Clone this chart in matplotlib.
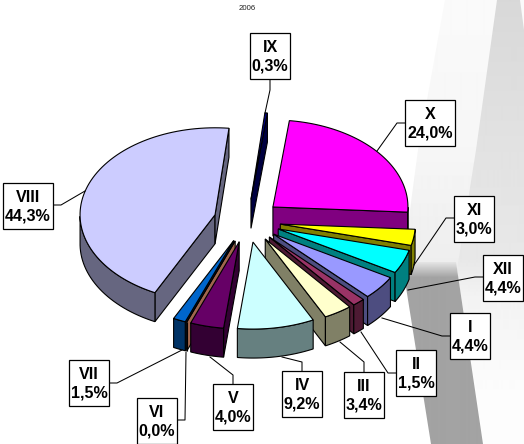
import numpy as np
import matplotlib
matplotlib.use('Agg')
import matplotlib.pyplot as plt
from matplotlib.patches import Polygon

# clockwise from X, the way the pie runs
months = ['X', 'XI', 'XII', 'I', 'II', 'III', 'IV', 'V', 'VI', 'VII', 'VIII', 'IX']
shares = [24.0, 3.0, 4.4, 4.4, 1.5, 3.4, 9.2, 4.0, 0.0, 1.5, 44.3, 0.3]
top_colors = ['#FF00FF', '#FFFF00', '#00FFFF', '#9999FF', '#993366', '#FFFFCC',
              '#CCFFFF', '#660066', '#A0664D', '#0066CC', '#CCCCFF', '#000080']
side_colors = ['#800080', '#808000', '#008080', '#4D4D80', '#4D1A33', '#808066',
               '#668080', '#330033', '#A0664D', '#003366', '#666680', '#000040']

# pixel layout of the picture
cx, cy = 247.2, 220.8
rx, ry = 135, 87
depth = 29
explode = 0.248
start = 83.0

boxes = {'IX': (250, 33), 'X': (405, 100), 'XI': (454, 196), 'XII': (483, 255),
         'I': (450, 313), 'II': (396, 350), 'III': (344, 372), 'IV': (282, 371),
         'V': (213, 384), 'VI': (137, 398), 'VII': (69, 360), 'VIII': (3, 183)}
box_w = {'X': 50, 'VIII': 50}
leaders = {'IX': [(270, 79), (270, 90), (265, 113)],
           'X': [(405, 123), (397, 123), (377, 151)],
           'XI': [(454, 218), (446, 218), (414, 265)],
           'XII': [(483, 277), (475, 277), (408, 290)],
           'I': [(450, 336), (442, 336), (382, 318)],
           'II': [(396, 373), (388, 373), (361, 332)],
           'III': [(364, 372), (364, 362), (340, 342)],
           'IV': [(302, 371), (302, 362), (282, 357)],
           'V': [(233, 384), (233, 375), (210, 357)],
           'VI': [(177, 420), (185, 420), (186, 352)],
           'VII': [(109, 383), (117, 383), (182, 350)],
           'VIII': [(53, 205), (61, 205), (85, 191)]}

plt.rcParams['font.family'] = ['Liberation Sans', 'DejaVu Sans']
fig = plt.figure(figsize=(5.24, 4.44), dpi=100)
ax = fig.add_axes([0, 0, 1, 1])
ax.set_xlim(0, 524)
ax.set_ylim(444, 0)
ax.axis('off')


def gradient(points, ys, greys, z):
    yy = np.arange(0, 445)
    img = np.interp(yy, ys, greys).reshape(-1, 1)
    im = ax.imshow(img, extent=(0, 524, 444, 0), cmap='gray', vmin=0, vmax=255,
                   aspect='auto', zorder=z, interpolation='bilinear')
    clip = Polygon(points, closed=True, transform=ax.transData)
    im.set_clip_path(clip)


# grey backdrop shapes on the right
gradient([(445, 0), (524, 0), (524, 270), (402, 270), (418, 150)],
         [0, 150, 260], [250, 246, 238], 0)
gradient([(497, 0), (520, 0), (524, 30), (524, 444), (484, 444), (457, 270), (476, 150)],
         [0, 150, 260, 300, 400], [216, 226, 232, 243, 253], 1)
gradient([(402, 262), (456, 262), (483, 444), (431, 444)],
         [262, 278], [232, 163], 2)
ax.set_xlim(0, 524)
ax.set_ylim(444, 0)


def pt(ang, ox, oy, r=1.0):
    a = np.radians(ang)
    return ox + r * rx * np.cos(a), oy - r * ry * np.sin(a)


def slice_faces(hi, lo, top, side, z):
    mid = (hi + lo) / 2
    ox, oy = pt(mid, cx, cy, explode)
    # cut faces that turn towards the viewer
    if np.cos(np.radians(hi)) < 0:
        x, y = pt(hi, ox, oy)
        ax.add_patch(Polygon([(ox, oy), (x, y), (x, y + depth), (ox, oy + depth)],
                             fc=side, ec='black', lw=0.8, zorder=z))
    if np.cos(np.radians(lo)) > 0:
        x, y = pt(lo, ox, oy)
        ax.add_patch(Polygon([(ox, oy), (x, y), (x, y + depth), (ox, oy + depth)],
                             fc=side, ec='black', lw=0.8, zorder=z))
    # outer rim, front half only
    angs = np.linspace(lo, hi, 80)
    angs = angs[np.sin(np.radians(angs)) <= 0]
    if len(angs) > 1:
        xs, ys = pt(angs, ox, oy)
        rim = list(zip(xs, ys)) + list(zip(xs[::-1], ys[::-1] + depth))
        ax.add_patch(Polygon(rim, fc=side, ec='black', lw=0.8, zorder=z))
    angs = np.linspace(lo, hi, 80)
    xs, ys = pt(angs, ox, oy)
    ax.add_patch(Polygon([(ox, oy)] + list(zip(xs, ys)), fc=top, ec='black', lw=0.8, zorder=z))


# wedges from the shares, painted back to front
bounds = start - np.concatenate([[0], np.cumsum(shares)]) * 3.6
paint = ['IX', 'X', 'XI', 'XII', 'I', 'II', 'III', 'VIII', 'VII', 'VI', 'V', 'IV']
for n, name in enumerate(paint):
    i = months.index(name)
    slice_faces(bounds[i], bounds[i + 1], top_colors[i], side_colors[i], 10 + n)

# leader lines and label boxes
for i, name in enumerate(months):
    xs, ys = zip(*leaders[name])
    ax.plot(xs, ys, color='black', lw=0.75, zorder=30)
    bx, by = boxes[name]
    w = box_w.get(name, 40)
    h = 46
    ax.add_patch(Polygon([(bx, by), (bx + w, by), (bx + w, by + h), (bx, by + h)],
                         fc='white', ec='black', lw=0.9, zorder=31))
    label = name + '\n' + f'{shares[i]:.1f}'.replace('.', ',') + '%'
    ax.text(bx + w / 2, by + h / 2 + 0.5, label, ha='center', va='center', fontsize=11.6,
            fontweight='bold', color='black', linespacing=1.26, zorder=32)

ax.text(247.5, 8, '2006', ha='center', va='center', fontsize=5.6, color='#222222', zorder=32)

fig.savefig('out.png', dpi=100)
